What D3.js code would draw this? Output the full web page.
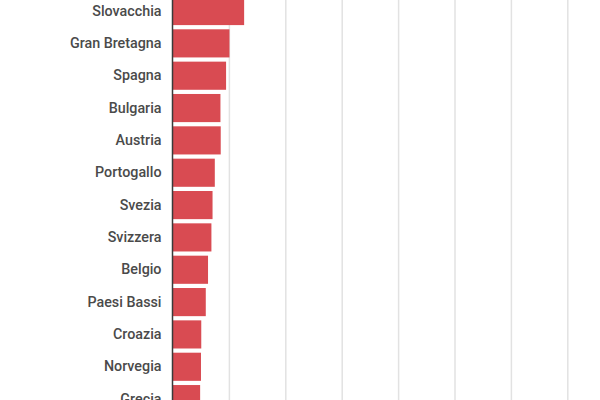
<!DOCTYPE html>
<html>
<head>
<meta charset="utf-8">
<script src="https://cdn.jsdelivr.net/npm/d3@7"></script>
<style>
  html, body { margin: 0; padding: 0; background: #fff; }
  svg { display: block; }
</style>
</head>
<body>
<svg id="chart" width="600" height="400"></svg>
<script>
const categories = ["Slovacchia", "Gran Bretagna", "Spagna", "Bulgaria", "Austria", "Portogallo", "Svezia", "Svizzera", "Belgio", "Paesi Bassi", "Croazia", "Norvegia", "Grecia"];
const values = [12.7, 10.1, 9.5, 8.5, 8.55, 7.5, 7.1, 6.9, 6.3, 5.9, 5.1, 5.05, 4.9];
const gridTicks = [10, 20, 30, 40, 50, 60, 70];

const svg = d3.select("#chart");
const x0 = 172.5;
const x = d3.scaleLinear().domain([0, 10]).range([x0, x0 + 56.4]);
const step = 32.34, padIn = 0.13;
const yTop = -3.04;
const y = d3.scaleBand()
  .domain(categories)
  .range([yTop, yTop + step * (categories.length - padIn)])
  .paddingInner(padIn)
  .paddingOuter(0);

// gridlines
svg.append("g")
  .call(d3.axisBottom(x).tickValues(gridTicks).tickSize(400).tickFormat(""))
  .call(g => g.select(".domain").remove())
  .call(g => g.selectAll(".tick line").attr("stroke", "#e2e2e2").attr("stroke-width", 1.5));

// bars
svg.append("g")
  .selectAll("rect")
  .data(categories)
  .join("rect")
  .attr("x", x(0) + 0.5)
  .attr("y", d => y(d))
  .attr("height", y.bandwidth())
  .attr("width", (d, i) => x(values[i]) - x(0) - 0.5)
  .attr("fill", "#d94b52");

// category axis
svg.append("g")
  .attr("transform", `translate(${x0},0)`)
  .call(d3.axisLeft(y).tickSize(0).tickPadding(11))
  .call(g => g.select(".domain").remove())
  .call(g => g.selectAll("text")
    .attr("font-family", "Roboto, sans-serif")
    .attr("font-size", "14.3px")
    .attr("font-weight", 500)
    .attr("fill", "#4a4a4a"));

// baseline
svg.append("line")
  .attr("x1", x(0)).attr("x2", x(0))
  .attr("y1", 0).attr("y2", 400)
  .attr("stroke", "#3a3a3a").attr("stroke-width", 1.5);
</script>
</body>
</html>
